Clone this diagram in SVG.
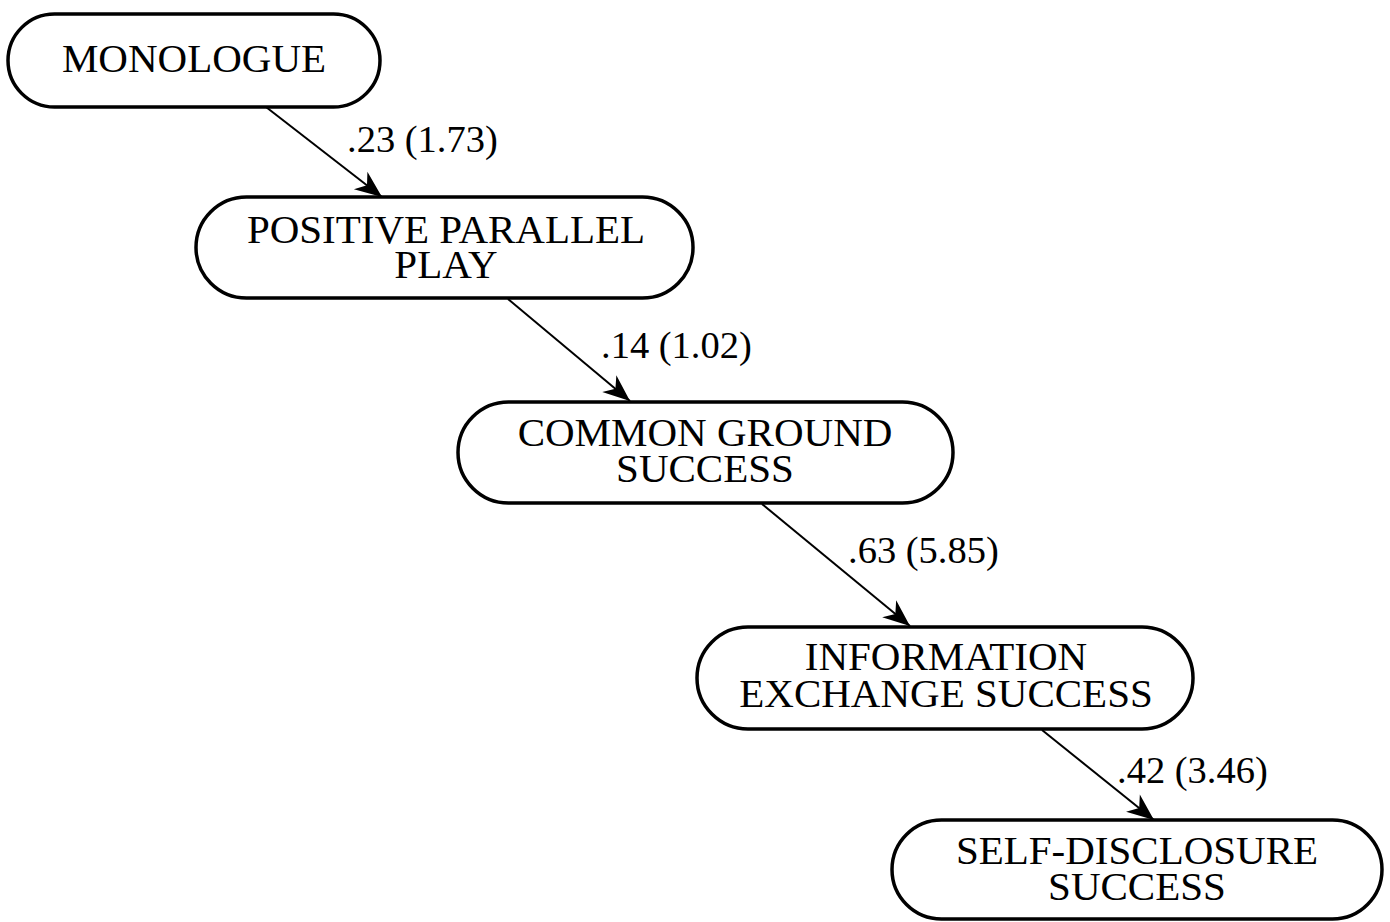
<svg xmlns="http://www.w3.org/2000/svg" width="1390" height="922" viewBox="0 0 1390 922">
<style>
.node rect{fill:#fff;stroke:#000;stroke-width:3.5}
.node text{font-family:"Liberation Serif","Times New Roman",serif;font-size:41px;text-anchor:middle;fill:#000}
.edge line{stroke:#000;stroke-width:2}
.lbl{font-family:"Liberation Serif","Times New Roman",serif;font-size:38.5px;fill:#000}
</style>
<defs>
<marker id="ah" markerUnits="userSpaceOnUse" markerWidth="32" markerHeight="26" viewBox="-28 -13 30 26" refX="0" refY="0" orient="auto">
<path d="M0,0 L-27,-11 L-19,0 L-27,11 Z" fill="#000"/>
</marker>
</defs>
<rect width="1390" height="922" fill="#fff"/>
<g id="connectors" class="edge">
<line x1="266" y1="107" x2="382" y2="197" marker-end="url(#ah)"/>
<line x1="508" y1="299" x2="630" y2="401" marker-end="url(#ah)"/>
<line x1="762" y1="504" x2="910" y2="626" marker-end="url(#ah)"/>
<line x1="1042" y1="730" x2="1154" y2="820" marker-end="url(#ah)"/>
<text class="lbl" x="347" y="152">.23 (1.73)</text>
<text class="lbl" x="601" y="358">.14 (1.02)</text>
<text class="lbl" x="848" y="563">.63 (5.85)</text>
<text class="lbl" x="1117" y="783">.42 (3.46)</text>
</g>
<g id="monologue" class="node">
<rect x="8" y="14" width="372" height="93" rx="46.5"/>
<text x="194" y="72">MONOLOGUE</text>
</g>
<g id="positive-parallel-play" class="node">
<rect x="196" y="197" width="497" height="101" rx="50.5"/>
<text x="446" y="243">POSITIVE PARALLEL</text>
<text x="446" y="278">PLAY</text>
</g>
<g id="common-ground-success" class="node">
<rect x="458" y="402" width="495" height="101" rx="50.5"/>
<text x="705" y="446">COMMON GROUND</text>
<text x="705" y="482">SUCCESS</text>
</g>
<g id="information-exchange-success" class="node">
<rect x="697" y="627" width="496" height="102" rx="51"/>
<text x="946" y="670">INFORMATION</text>
<text x="946" y="707">EXCHANGE SUCCESS</text>
</g>
<g id="self-disclosure-success" class="node">
<rect x="892" y="820" width="490" height="99" rx="49.5"/>
<text x="1137" y="864">SELF-DISCLOSURE</text>
<text x="1137" y="900">SUCCESS</text>
</g>
</svg>
